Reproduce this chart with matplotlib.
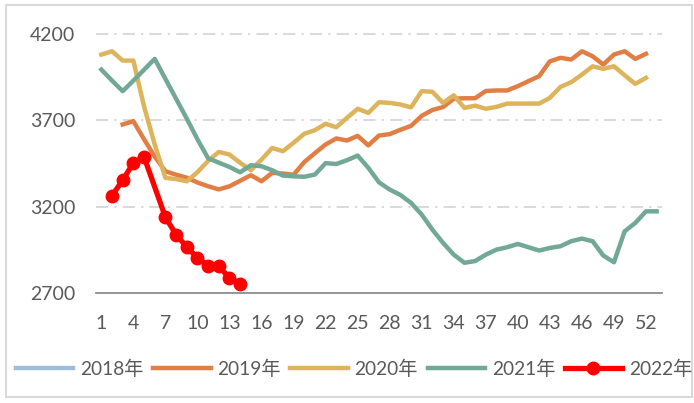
import numpy as np
import matplotlib.pyplot as plt
from matplotlib.patches import Rectangle

plt.rcParams['font.family'] = ['Lato', 'Noto Sans CJK SC', 'DejaVu Sans']

nan = np.nan

# weekly prices by year
weeks_2019 = list(range(1, 53))
y2019 = [nan, nan, 3676, 3695, 3590, 3490, 3405, 3385, 3368, 3340,
         3318, 3300, 3318, 3350, 3382, 3347, 3396, 3392, 3385, 3458,
         3510, 3560, 3595, 3583, 3610, 3555, 3612, 3620, 3645, 3668,
         3726, 3760, 3777, 3825, 3828, 3828, 3870, 3873, 3873, 3898,
         3927, 3956, 4042, 4062, 4052, 4100, 4071, 4023, 4081, 4100,
         4056, 4085]

weeks_2020 = list(range(1, 53))
y2020 = [4081, 4100, 4046, 4046, 3780, 3560, 3367, 3360, 3347, 3400,
         3465, 3517, 3502, 3454, 3411, 3473, 3540, 3521, 3570, 3622,
         3643, 3680, 3660, 3714, 3767, 3743, 3805, 3801, 3792, 3775,
         3869, 3865, 3801, 3845, 3772, 3785, 3767, 3778, 3797, 3797,
         3797, 3797, 3830, 3894, 3921, 3965, 4013, 3998, 4013, 3961,
         3911, 3946]

weeks_2021 = list(range(1, 54))
y2021 = [3994, 3930, 3869, 3930, 3993, 4056, 3940, 3825, 3710, 3590,
         3480, 3455, 3430, 3399, 3440, 3434, 3411, 3380, 3376, 3373,
         3386, 3452, 3447, 3469, 3496, 3425, 3341, 3299, 3268, 3222,
         3154, 3067, 2990, 2922, 2875, 2885, 2922, 2951, 2965, 2984,
         2965, 2946, 2961, 2971, 3000, 3015, 3000, 2917, 2878, 3057,
         3106, 3173, 3173]

weeks_2022 = [2, 3, 4, 5, 7, 8, 9, 10, 11, 12, 13, 14]
y2022 = [3264, 3353, 3454, 3488, 3139, 3038, 2967, 2903, 2859, 2855,
         2787, 2754]

weeks_2018 = []
y2018 = []

xticks = list(range(1, 53, 3))
yticks = [2700, 3200, 3700, 4200]

fig = plt.figure(figsize=(6.94, 4.03), dpi=100)
ax = fig.add_axes([96 / 694, 110 / 403, 566 / 694, 259 / 403])

ax.plot(weeks_2018, y2018, color='#9DBDDA', lw=3.2, label='2018年')
ax.plot(weeks_2019, y2019, color='#E07E44', lw=3.2, label='2019年')
ax.plot(weeks_2020, y2020, color='#DDB35B', lw=3.2, label='2020年')
ax.plot(weeks_2021, y2021, color='#72A897', lw=3.2, label='2021年')
ax.plot(weeks_2022, y2022, color='#FF0000', lw=3.8, marker='o',
        markersize=9, label='2022年')

ax.set_xlim(0.5, 53.5)
ax.set_ylim(2700, 4200)
ax.set_xticks(xticks)
ax.set_yticks(yticks)
ax.tick_params(length=0, labelsize=14, labelcolor='#595959')
ax.tick_params(axis='x', pad=16)
ax.tick_params(axis='y', pad=15)

for s in ['top', 'right', 'left']:
    ax.spines[s].set_visible(False)
ax.spines['bottom'].set_color('#8C8C8C')
ax.spines['bottom'].set_linewidth(1.3)
ax.spines['bottom'].set_zorder(1)

for v in yticks[1:]:
    ax.axhline(v, color='#D0D0D0', lw=1.1, ls=(0, (8, 4, 1.5, 4)), zorder=0,
               clip_on=False)

fig.legend(loc='center', bbox_to_anchor=(354 / 694, 34 / 403), ncol=5,
           frameon=False, fontsize=13.8, handlelength=3.0,
           handletextpad=0.35, columnspacing=0.5, labelcolor='#595959')

# outer frame
fig.patches.append(Rectangle((6 / 694, 6 / 403), 686 / 694, 392 / 403,
                             transform=fig.transFigure, fill=False,
                             edgecolor='#D9D9D9', lw=1.5))

fig.savefig('out.png', dpi=100)
